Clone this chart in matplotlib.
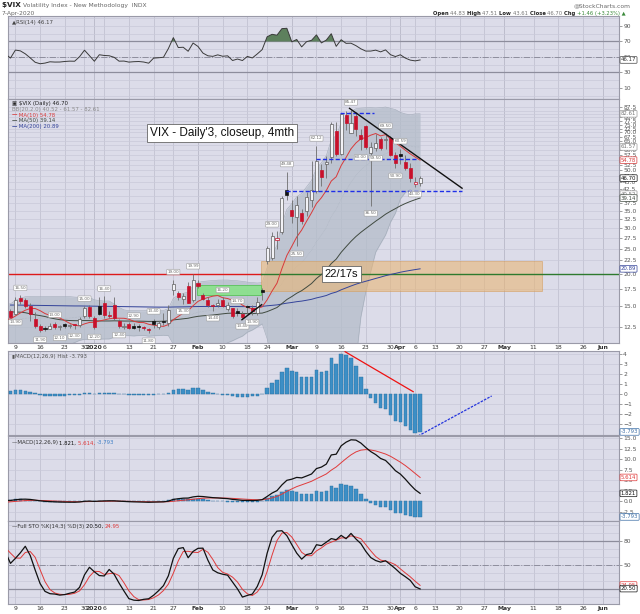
import numpy as np
import pandas as pd
import matplotlib
matplotlib.use("Agg")
import matplotlib.pyplot as plt
import matplotlib.transforms as mtrans
from matplotlib.ticker import FixedLocator, FormatStrFormatter, NullLocator

# ---- warm-up data (before the visible window, only feeds the indicators) ----
# closes Sep 27 - Nov 6 2019
warm_close = [17.22, 16.24,
              18.56, 20.56, 19.12, 17.04, 17.86, 20.28, 18.64, 17.57, 15.58,
              14.57, 13.54, 13.68, 13.79, 14.25, 14.00, 14.46, 14.01, 13.71,
              12.65, 13.11, 13.20, 12.33, 13.22,
              12.30, 12.83, 13.10, 12.62]
# Nov 7 - Dec 5 2019
warm_high = [13.20, 13.00, 13.10, 13.10, 13.40, 13.60, 12.90, 12.80, 12.95, 14.00,
             13.40, 12.90, 12.50, 12.10, 11.90, 12.80, 15.40, 17.00, 15.60, 15.10]
warm_low = [12.30, 11.90, 12.40, 12.20, 12.60, 12.70, 11.90, 12.10, 12.20, 12.50,
            12.60, 12.10, 11.70, 11.40, 11.40, 11.90, 12.40, 15.10, 14.30, 14.00]
warm_cl = [12.73, 12.07, 12.69, 12.68, 13.00, 13.05, 12.05, 12.46, 12.86, 12.78,
           12.88, 12.34, 11.87, 11.54, 11.75, 12.62, 14.91, 15.96, 14.80, 14.52]

# ---- visible window: Dec 6 2019 .. Apr 7 2020 (trading days) ----
opens = [14.40, 14.00, 16.10, 15.80, 15.00, 13.40, 12.60, 12.35, 12.30, 12.75,
         12.45, 12.80, 12.55, 12.70, 12.70, 13.70, 14.90, 13.50, 15.00, 15.40,
         13.90, 15.10, 13.10, 12.50, 12.80, 12.60, 12.60, 12.40, 12.20, 13.10,
         12.50, 13.20, 12.90, 17.30, 16.80, 16.00, 18.00, 15.90, 18.50, 16.60,
         15.80, 15.10, 15.20, 15.80, 14.60, 14.70, 14.40, 14.00, 14.90, 14.80,
         14.10, 17.20, 22.40, 23.00, 26.90, 29.00, 42.00, 35.30, 33.00, 34.20,
         35.00, 38.50, 41.50, 50.00, 52.80, 56.50, 71.00, 58.00, 82.00, 69.50,
         81.00, 68.50, 74.00, 58.50, 61.20, 66.00, 65.20, 66.50, 57.30, 57.40,
         53.80, 51.00, 44.50, 44.83]
highs = [14.60, 16.30, 16.50, 16.10, 15.40, 14.20, 12.80, 12.60, 12.90, 13.00,
         12.70, 12.90, 12.80, 12.80, 13.60, 15.00, 15.10, 13.70, 16.20, 16.40,
         14.40, 16.20, 13.40, 12.90, 13.00, 12.90, 12.80, 12.60, 12.40, 13.40,
         13.10, 14.10, 15.10, 19.00, 17.20, 16.80, 18.60, 19.99, 19.00, 16.90,
         16.20, 15.30, 16.00, 16.20, 15.60, 14.80, 14.70, 14.40, 15.20, 15.10,
         16.20, 17.70, 25.60, 29.00, 29.30, 40.00, 49.48, 38.60, 39.90, 35.50,
         41.30, 54.39, 62.12, 53.00, 56.80, 76.83, 76.80, 83.56, 84.80, 85.47,
         84.26, 72.50, 74.50, 64.60, 69.00, 67.50, 69.50, 67.70, 59.00, 60.59,
         57.20, 53.20, 47.30, 47.51]
lows = [13.50, 13.90, 15.30, 14.80, 13.10, 12.40, 11.90, 12.00, 12.20, 12.30,
        12.10, 12.40, 12.40, 12.30, 12.50, 13.50, 13.50, 12.20, 13.90, 13.50,
        13.50, 13.30, 12.40, 12.20, 12.20, 12.20, 12.00, 12.10, 11.80, 12.40,
        12.30, 12.70, 12.60, 16.60, 15.90, 15.30, 15.40, 15.60, 17.70, 15.90,
        14.90, 14.40, 14.90, 14.90, 14.40, 13.50, 13.70, 13.40, 14.00, 13.90,
        13.90, 15.90, 21.80, 22.50, 24.90, 28.50, 38.30, 31.50, 25.50, 31.20,
        33.50, 36.00, 41.00, 43.60, 46.80, 53.50, 56.90, 57.50, 71.80, 69.40,
        67.90, 60.00, 60.70, 36.50, 59.50, 59.80, 60.50, 56.80, 50.90, 53.00,
        50.20, 45.10, 43.30, 43.61]
closes = [13.62, 15.86, 15.68, 14.99, 13.94, 12.63, 12.14, 12.29, 12.58, 12.50,
          12.51, 12.61, 12.67, 12.65, 13.43, 14.82, 13.78, 12.47, 14.02, 13.85,
          13.79, 13.45, 12.54, 12.56, 12.32, 12.39, 12.42, 12.32, 12.10, 12.85,
          12.91, 12.98, 14.56, 18.23, 16.28, 16.39, 15.49, 18.84, 17.97, 16.05,
          15.15, 14.96, 15.47, 15.04, 15.18, 13.74, 14.15, 13.68, 14.83, 14.38,
          15.56, 17.08, 25.03, 27.85, 27.56, 39.16, 40.11, 33.42, 36.82, 31.99,
          39.62, 41.94, 54.46, 47.30, 53.90, 75.47, 57.83, 82.69, 75.91, 76.45,
          72.00, 66.04, 61.59, 61.67, 63.95, 61.00, 65.54, 57.08, 53.54, 57.06,
          50.91, 46.80, 45.24, 46.70]
ma200 = [15.15, 15.15, 15.14, 15.13, 15.12, 15.11, 15.10, 15.09, 15.08, 15.07,
         15.06, 15.05, 15.04, 15.03, 15.03, 15.02, 15.01,
         15.00, 14.99, 14.98, 14.97, 14.96, 14.95, 14.94, 14.93, 14.92, 14.91,
         14.90, 14.89, 14.88, 14.87, 14.87, 14.87,
         14.89, 14.90, 14.91, 14.92, 14.94, 14.95, 14.96, 14.96, 14.96, 14.96,
         14.96, 14.96, 14.95, 14.95, 14.94, 14.94, 14.94, 14.95, 14.97,
         15.05, 15.11, 15.17, 15.29, 15.41, 15.50, 15.61, 15.69, 15.81, 15.94,
         16.14, 16.30, 16.49, 16.79, 17.00, 17.34, 17.64, 17.94, 18.23, 18.48,
         18.71, 18.94, 19.18, 19.41, 19.66, 19.87, 20.06, 20.27, 20.44, 20.60,
         20.75, 20.89]

# date axis (trading-day index, Dec 9 2019 = 0)
tick_pos = [0, 5, 10, 14, 16, 18, 23, 28, 32, 37, 42, 47, 51, 56, 61, 66, 71, 76,
            78, 81, 85, 90, 95, 99, 105, 110, 115, 119]
tick_lab = ['9', '16', '23', '30', '2020', '6', '13', '21', '27', 'Feb', '10', '18',
            '24', 'Mar', '9', '16', '23', '30', 'Apr', '6', '13', '20', '27', 'May',
            '11', '18', '26', 'Jun']
month_lab = ['2020', 'Feb', 'Mar', 'Apr', 'May', 'Jun']

# candle value tags (trading-day index)
tag_high = [1, 8, 14, 18, 24, 28, 32, 36, 42, 45, 52, 55, 61, 68, 75, 78]
tag_low = [0, 5, 9, 12, 16, 21, 27, 34, 40, 46, 48, 57, 70, 72, 73, 77, 81]

# drawn annotations
trend_main = ([67.7, 90.5], [86.7, 42.7])
trend_feb = ([45.9, 49.9], [13.3, 15.2])
blue_levels = [(65.8, 72.6, 82.9), (60.9, 81.6, 55.5), (54.9, 90.5, 41.8)]
green_box = (36.8, 49.8, 16.56, 18.1)
orange_box = (49.8, 106.6, 17.2, 22.4)
hist_red = ([66.8, 80.6], [4.23, 0.23])
hist_blue = ([81.6, 96.5], [-4.2, -0.2])

# ---- indicators ----
all_close = pd.Series(warm_close + warm_cl + closes)
n_pre = len(warm_close) + len(warm_cl)
x_all = np.arange(len(all_close)) - n_pre - 1
ma10 = all_close.rolling(10).mean()
ma50 = all_close.rolling(50).mean()
bbm = all_close.rolling(20).mean()
bbs = all_close.rolling(20).std(ddof=0)
bbu, bbl = bbm + 2 * bbs, bbm - 2 * bbs
d = all_close.diff()
au = d.clip(lower=0).ewm(alpha=1 / 14, adjust=False).mean()
ad = (-d.clip(upper=0)).ewm(alpha=1 / 14, adjust=False).mean()
rsi = 100 - 100 / (1 + au / ad)
macd = all_close.ewm(span=12, adjust=False).mean() - all_close.ewm(span=26, adjust=False).mean()
sig = macd.ewm(span=9, adjust=False).mean()
hist = macd - sig

hl_c = pd.Series(warm_cl + closes)
hl_h = pd.Series(warm_high + highs)
hl_l = pd.Series(warm_low + lows)
x_hl = np.arange(len(hl_c)) - len(warm_cl) - 1
hh, ll = hl_h.rolling(14).max(), hl_l.rolling(14).min()
stok = (100 * (hl_c - ll) / (hh - ll)).rolling(3).mean()
stod = stok.rolling(3).mean()

vis = x_all >= -3
xv = x_all[vis]
vis2 = x_hl >= -3
x_main = np.arange(len(closes)) - 1

# ---- figure ----
fig = plt.figure(figsize=(6.4, 6.14), dpi=100)
fig.patch.set_facecolor('white')
LEFT, WID = 8 / 640, 611 / 640


def pane(top, bot):
    return fig.add_axes([LEFT, 1 - bot / 614, WID, (bot - top) / 614])


ax_r = pane(16, 99)
ax = pane(99, 343)
ax_h = pane(351, 435)
ax_m = pane(436, 521)
ax_s = pane(521, 604)

BG = '#dcdce9'
HGRID = '#c9c9d9'
VGRID = '#bdbdcd'
LINE = '#8d8d9c'


def style(a, dates=False):
    a.set_facecolor(BG)
    a.set_xlim(-1.5, 122.3)
    a.set_axisbelow(True)
    for sp in a.spines.values():
        sp.set_color('#9a9aa8')
        sp.set_linewidth(0.8)
    a.yaxis.tick_right()
    a.tick_params(axis='y', which='both', labelsize=4.3, colors='#555555',
                  length=2, width=0.4, pad=1)
    a.grid(axis='y', which='both', color=HGRID, lw=0.5)
    for t, lab in zip(tick_pos, tick_lab):
        a.axvline(t, color='#b0b0c0' if lab in month_lab else VGRID, lw=0.5, zorder=0)
    a.set_xticks(tick_pos)
    if dates:
        a.set_xticklabels(tick_lab)
        a.tick_params(axis='x', length=0, pad=1.2, labelsize=4.4, colors='#333333')
        for t in a.get_xticklabels():
            if t.get_text() in month_lab:
                t.set_fontweight('bold')
    else:
        a.set_xticklabels([])
        a.tick_params(axis='x', length=0)


def vbox(a, val, txt, ec, tc='#333333'):
    tr = mtrans.blended_transform_factory(a.transAxes, a.transData)
    a.text(1.003, val, txt, transform=tr, fontsize=3.9, color=tc, va='center', ha='left',
           bbox=dict(boxstyle='round,pad=0.15', fc='white', ec=ec, lw=0.5),
           clip_on=False, zorder=9)


def chain(a, first, parts, size):
    # write text pieces one after the other, each starting where the last ended
    t = first
    for s, col, wt in parts:
        t = a.annotate(s, xy=(1, 0), xycoords=t, fontsize=size, color=col,
                       weight=wt, va='bottom', ha='left', annotation_clip=False, zorder=9)
    return t


def legend(a, yfrac, parts, size=3.9):
    t = a.text(0.006, yfrac, parts[0][0], transform=a.transAxes, fontsize=size,
               color=parts[0][1], weight=parts[0][2], va='bottom', ha='left', zorder=9)
    chain(a, t, parts[1:], size)


# ---- header ----
t = fig.text(0.003, 0.9865, '$VIX ', fontsize=5.2, weight='bold', color='#222222', va='bottom')
chain(ax_r, t, [('Volatility Index - New Methodology  INDX', '#666666', 'normal')], 4.3)
fig.text(0.003, 0.974, '7-Apr-2020', fontsize=4.3, color='#666666', va='bottom')
fig.text(0.986, 0.9865, '@StockCharts.com', fontsize=4.3, color='#666666', va='bottom', ha='right')
t = fig.text(0.676, 0.974, 'Open ', fontsize=3.8, weight='bold', color='#222222', va='bottom')
chain(ax_r, t, [('44.83 ', '#777777', 'normal'), ('High ', '#222222', 'bold'),
                ('47.51 ', '#777777', 'normal'), ('Low ', '#222222', 'bold'),
                ('43.61 ', '#777777', 'normal'), ('Close ', '#222222', 'bold'),
                ('46.70 ', '#777777', 'normal'), ('Chg ', '#222222', 'bold'),
                ('+1.46 (+3.23%) \u25b2', '#3a8a3a', 'normal')], 3.8)

# ---- RSI ----
style(ax_r)
ax_r.set_ylim(-4.2, 102.9)
ax_r.yaxis.set_major_locator(FixedLocator([10, 30, 50, 70, 90]))
ax_r.yaxis.set_minor_locator(FixedLocator([0, 20, 40, 60, 80, 100]))
ax_r.tick_params(axis='y', which='minor', length=0)
ax_r.axhline(70, color=LINE, lw=0.9)
ax_r.axhline(30, color=LINE, lw=0.9)
ax_r.axhline(50, color=LINE, lw=0.7, ls='-.')
rv = rsi[vis].values
ax_r.fill_between(xv, 70, rv, where=rv > 70, interpolate=True, color='#5d805d', lw=0, zorder=2)
ax_r.plot(xv, rv, color='#3a3a3a', lw=0.7, zorder=3)
legend(ax_r, 0.89, [('\u25b2RSI(14) 46.17', '#444444', 'normal')])
vbox(ax_r, 46.17, '46.17', '#444444')

# ---- main price panel ----
style(ax, dates=True)
ax.set_yscale('log')
ax.set_ylim(10.82, 94.2)
ax.yaxis.set_major_locator(FixedLocator([12.5 + 2.5 * k for k in range(31)]))
ax.yaxis.set_major_formatter(FormatStrFormatter('%.1f'))
ax.yaxis.set_minor_locator(NullLocator())

ax.fill_between(xv, bbl[vis], bbu[vis], color='#b4bdca', alpha=0.75, lw=0, zorder=1)
ax.plot(xv, bbu[vis], color='#a2abb8', lw=0.4, zorder=1.5)
ax.plot(xv, bbl[vis], color='#a2abb8', lw=0.4, zorder=1.5)
ax.plot(xv, bbm[vis], color='#a9b2be', lw=0.4, ls=':', zorder=1.5)

x0, x1, y0, y1 = orange_box
ax.add_patch(plt.Rectangle((x0, y0), x1 - x0, y1 - y0, fc='#e9b676', ec='#d49a55',
                           alpha=0.6, lw=0.6, zorder=2))
x0, x1, y0, y1 = green_box
ax.add_patch(plt.Rectangle((x0, y0), x1 - x0, y1 - y0, fc='#86e486', ec='#4cbf4c',
                           alpha=0.85, lw=0.6, zorder=2))
ax.plot([-1.5, orange_box[0]], [20, 20], color='#dd1a1a', lw=1.0, zorder=2.5)
ax.plot([orange_box[0], 122.3], [20, 20], color='#2e7a2e', lw=1.0, zorder=2.5)

ax.plot(x_main, ma200, color='#34449a', lw=0.7, zorder=3)
ax.plot(xv, ma50[vis], color='#404a40', lw=0.7, zorder=3)
ax.plot(xv, ma10[vis], color='#d83a3a', lw=0.7, zorder=3.2)

prev = [warm_cl[-1]] + closes[:-1]
for x, o, h, l, c, p in zip(x_main, opens, highs, lows, closes, prev):
    col = '#c8102a' if c < p else '#111111'
    hollow = c > o
    ax.vlines(x, l, h, color='#6e6e6e', lw=0.6, zorder=4)
    lo, hi = min(o, c), max(o, c)
    if hi / lo < 1.01:
        hi = lo * 1.01
    ec = (col if col != '#111111' else '#5e5e5e') if hollow else col
    ax.bar(x, hi - lo, bottom=lo, width=0.62, color='#f2f2f6' if hollow else col,
           edgecolor=ec, lw=0.5, zorder=4.5)

for lx0, lx1, lv in blue_levels:
    ax.plot([lx0, lx1], [lv, lv], color='#1f2fe8', lw=1.0, ls=(0, (3, 1.6)), zorder=5)
ax.plot(*trend_main, color='#111111', lw=1.0, zorder=5)
ax.plot(*trend_feb, color='#111111', lw=1.0, zorder=5)

tagbox = dict(boxstyle='round,pad=0.18', fc='white', ec='#9a9a9a', lw=0.4)
for i in tag_high:
    v = highs[i + 1]
    ax.text(i, v * 1.05, f'{v:.2f}', fontsize=3.0, color='#666666', ha='center',
            va='bottom', bbox=tagbox, zorder=6)
for i in tag_low:
    v = lows[i + 1]
    ax.text(i, v / 1.05, f'{v:.2f}', fontsize=3.0, color='#666666', ha='center',
            va='top', bbox=tagbox, zorder=6)

ax.text(41.9, 69.7, "VIX - Daily'3, closeup, 4mth", fontsize=8.5, family='Liberation Sans',
        ha='center', va='center', color='#111111', zorder=8,
        bbox=dict(boxstyle='square,pad=0.25', fc='white', ec='#666666', lw=0.6))
ax.text(66.0, 19.95, '22/17s', fontsize=8, family='Liberation Sans', ha='center',
        va='center', color='#111111', zorder=8,
        bbox=dict(boxstyle='square,pad=0.25', fc='white', ec='#666666', lw=0.6))

legend(ax, 0.970, [('\u25a3 $VIX (Daily) 46.70', '#222222', 'normal')])
legend(ax, 0.947, [('BB(20,2.0) 40.52 - 61.57 - 82.61', '#8a8a8a', 'normal')])
legend(ax, 0.924, [('\u2014', '#d83a3a', 'bold'), (' MA(10) 54.78', '#d83a3a', 'normal')])
legend(ax, 0.901, [('\u2014', '#404a40', 'bold'), (' MA(50) 39.14', '#404a40', 'normal')])
legend(ax, 0.878, [('\u2014', '#34449a', 'bold'), (' MA(200) 20.89', '#34449a', 'normal')])

vbox(ax, 82.61, '82.61', '#999999', '#777777')
vbox(ax, 61.57, '61.57', '#999999', '#777777')
vbox(ax, 54.78, '54.78', '#d83a3a', '#d83a3a')
vbox(ax, 46.70, '46.70', '#111111', '#111111')
vbox(ax, 40.52, '40.52', '#999999', '#777777')
vbox(ax, 39.14, '39.14', '#404a40', '#404a40')
vbox(ax, 20.89, '20.89', '#34449a', '#34449a')

# ---- MACD histogram ----
style(ax_h)
ax_h.set_ylim(-4.1, 4.3)
ax_h.yaxis.set_major_locator(FixedLocator([-3, -2, -1, 0, 1, 2, 3, 4]))
ax_h.bar(xv, hist[vis], width=0.7, color='#3d8fc6', edgecolor='#296f9f', lw=0.3, zorder=3)
ax_h.plot(*hist_red, color='#ee1111', lw=0.9, zorder=4)
ax_h.plot(*hist_blue, color='#2233dd', lw=0.9, ls=(0, (2, 1)), zorder=4)
legend(ax_h, 0.90, [('\u25aeMACD(12,26,9) Hist -3.793', '#555555', 'normal')])
vbox(ax_h, -3.793, '-3.793', '#3d6fa6', '#3d6fa6')

# ---- MACD ----
style(ax_m)
ax_m.set_ylim(-4.76, 15.48)
ax_m.yaxis.set_major_locator(FixedLocator([-2.5, 0, 2.5, 5, 7.5, 10, 12.5, 15]))
ax_m.yaxis.set_major_formatter(FormatStrFormatter('%.1f'))
ax_m.bar(xv, hist[vis], width=0.7, color='#3d8fc6', edgecolor='#296f9f', lw=0.3, zorder=3)
ax_m.plot(xv, sig[vis], color='#e03a3a', lw=0.7, zorder=4)
ax_m.plot(xv, macd[vis], color='#111111', lw=0.9, zorder=5)
legend(ax_m, 0.89, [('\u2014MACD(12,26,9) ', '#333333', 'normal'), ('1.821, ', '#111111', 'normal'),
                    ('5.614, ', '#e03a3a', 'normal'), ('-3.793', '#3d7fc6', 'normal')])
vbox(ax_m, 5.614, '5.614', '#e03a3a', '#e03a3a')
vbox(ax_m, 1.821, '1.821', '#111111', '#111111')
vbox(ax_m, -3.793, '-3.793', '#3d6fa6', '#3d6fa6')

# ---- Full stochastics ----
style(ax_s, dates=True)
ax_s.set_ylim(1.25, 105)
ax_s.yaxis.set_major_locator(FixedLocator([50, 80]))
ax_s.yaxis.set_minor_locator(FixedLocator([10, 30, 40, 60, 70, 90, 100]))
ax_s.tick_params(axis='y', which='minor', length=0)
ax_s.axhline(80, color=LINE, lw=0.9)
ax_s.axhline(20, color=LINE, lw=0.9)
ax_s.axhline(50, color=LINE, lw=0.7, ls='-.')
xs2 = x_hl[vis2]
ax_s.plot(xs2, stod[vis2], color='#e03a3a', lw=0.7, zorder=4)
ax_s.plot(xs2, stok[vis2], color='#111111', lw=0.9, zorder=5)
legend(ax_s, 0.905, [('\u2014Full STO %K(14,3) %D(3) ', '#333333', 'normal'),
                     ('20.50, ', '#111111', 'normal'), ('24.95', '#e03a3a', 'normal')])
vbox(ax_s, 24.95, '24.95', '#e03a3a', '#e03a3a')
vbox(ax_s, 20.50, '20.50', '#111111', '#111111')

fig.savefig('out.png', dpi=100, facecolor='white')
